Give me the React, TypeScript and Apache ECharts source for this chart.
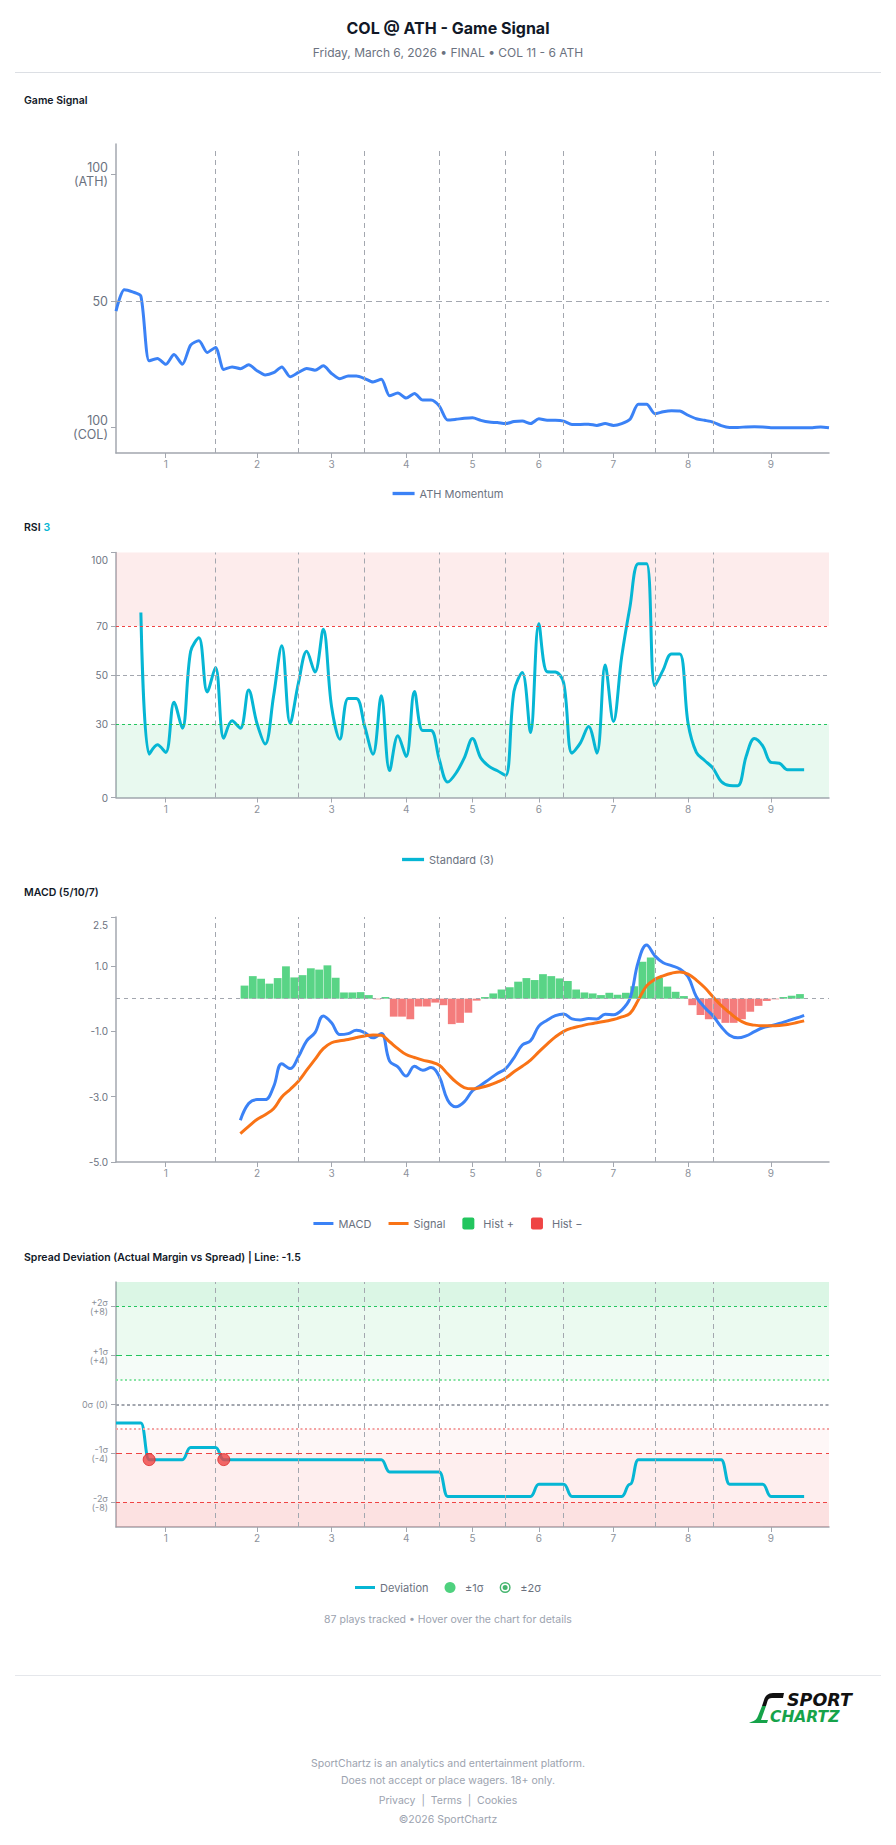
import { useEffect, useRef } from 'react';
import * as echarts from 'echarts';

// ---------------------------------------------------------------------------
// Play axis: one category per tracked play, innings marked by dashed breaks
// ---------------------------------------------------------------------------
const playCount = 87;
const plays: string[] = Array.from({ length: playCount }, (_, i) => `Play ${i + 1}`);
const histBands: string[] = plays.slice(0, playCount - 1);
const inningBreaks = [12, 22, 30, 39, 47, 54, 65, 72];
const inningLabelAt = [6, 17, 26, 35, 43, 51, 60, 69, 79];
const inningLabels = ['1', '2', '3', '4', '5', '6', '7', '8', '9'];

// Game signal (0 = COL side, 100 = ATH side)
const athMomentum = [
  46.0, 54.5, 53.6, 51.9, 26.4, 27.3, 25.0, 28.9, 25.0, 32.6,
  34.3, 29.7, 31.7, 23.0, 24.0, 23.3, 24.8, 22.5, 20.8, 21.7,
  24.0, 20.1, 21.8, 23.4, 22.7, 24.4, 21.4, 19.3, 20.4, 20.4,
  19.4, 18.0, 19.1, 12.6, 13.7, 11.7, 13.5, 10.9, 10.9, 8.5,
  3.0, 3.3, 3.7, 3.9, 2.9, 2.2, 2.0, 1.6, 2.4, 2.6,
  1.6, 3.5, 2.9, 2.9, 2.6, 1.3, 1.3, 1.4, 0.9, 1.6,
  0.9, 1.6, 3.3, 9.2, 9.2, 5.5, 6.3, 6.7, 6.6, 4.9,
  3.5, 2.9, 2.2, 0.8, 0.1, 0.1, 0.3, 0.4, 0.3, 0.0,
  0.0, 0.0, 0.0, 0.0, 0.0, 0.3, 0.0,
];

// RSI (3), first value on play index 3
const rsiStart = 3;
const rsiValues = [
  75.5, 17.7, 21.5, 18.4, 38.9, 28.3, 59.6, 65.2, 43.1, 53.1,
  24.2, 31.3, 28.3, 43.9, 30.3, 21.8, 41.2, 61.9, 30.3, 46.7,
  59.7, 51.2, 68.7, 37.1, 23.8, 40.4, 40.4, 29.0, 17.7, 41.5,
  11.0, 25.2, 16.7, 43.3, 27.3, 27.3, 15.4, 6.3, 9.9, 16.1,
  24.1, 16.1, 12.7, 10.9, 9.0, 43.3, 51.0, 26.5, 70.9, 51.3,
  51.2, 46.7, 18.1, 22.2, 29.0, 18.1, 54.1, 31.0, 57.6, 78.0,
  95.4, 95.4, 45.6, 52.1, 58.6, 58.6, 30.3, 18.4, 15.1, 12.0,
  6.5, 4.9, 4.8, 16.7, 24.1, 21.1, 14.3, 14.0, 11.3, 11.3,
  11.3,
];

// MACD (5/10/7), first value on play index 15
const macdStart = 15;
const macdValues = [
  -3.72, -3.21, -3.09, -3.09, -2.70, -1.99, -2.14, -1.78, -1.29, -1.04,
  -0.53, -0.74, -1.10, -1.07, -0.97, -1.04, -1.20, -1.07, -1.91, -2.09,
  -2.37, -2.07, -2.19, -2.11, -2.39, -3.10, -3.31, -3.16, -2.82, -2.65,
  -2.47, -2.29, -2.14, -1.81, -1.42, -1.29, -0.84, -0.66, -0.52, -0.47,
  -0.62, -0.65, -0.61, -0.62, -0.48, -0.49, -0.35, 0.01, 1.13, 1.64,
  1.31, 1.10, 1.01, 0.91, 0.67, 0.06, -0.27, -0.52, -0.86, -1.12,
  -1.20, -1.14, -1.01, -0.89, -0.83, -0.76, -0.68, -0.60, -0.51,
];
const signalValues = [
  -4.13, -3.91, -3.70, -3.55, -3.37, -3.01, -2.78, -2.53, -2.19, -1.86,
  -1.53, -1.35, -1.29, -1.25, -1.19, -1.14, -1.11, -1.12, -1.32, -1.53,
  -1.71, -1.80, -1.88, -1.94, -2.04, -2.30, -2.55, -2.72, -2.76, -2.72,
  -2.65, -2.55, -2.43, -2.24, -2.07, -1.88, -1.63, -1.39, -1.17, -1.00,
  -0.90, -0.84, -0.78, -0.74, -0.69, -0.64, -0.56, -0.45, -0.04, 0.39,
  0.59, 0.70, 0.78, 0.82, 0.75, 0.57, 0.34, 0.06, -0.21, -0.43,
  -0.63, -0.76, -0.81, -0.83, -0.83, -0.82, -0.79, -0.74, -0.68,
];
const histValues = [
  0.40, 0.69, 0.61, 0.46, 0.63, 0.99, 0.65, 0.72, 0.93, 0.89,
  1.02, 0.64, 0.19, 0.19, 0.20, 0.11, -0.02, 0.05, -0.55, -0.55,
  -0.63, -0.24, -0.24, -0.12, -0.20, -0.78, -0.74, -0.43, -0.06, 0.05,
  0.16, 0.28, 0.35, 0.52, 0.63, 0.57, 0.75, 0.69, 0.62, 0.54,
  0.28, 0.19, 0.16, 0.11, 0.18, 0.12, 0.18, 0.38, 1.13, 1.26,
  0.64, 0.37, 0.21, 0.08, -0.20, -0.50, -0.63, -0.63, -0.74, -0.74,
  -0.63, -0.40, -0.22, -0.07, -0.02, 0.05, 0.09, 0.14,
];

// Spread deviation (actual margin vs -1.5 line), plays 0..83
const spreadDeviation = [
  -1.5, -1.5, -1.5, -1.5, -4.5, -4.5, -4.5, -4.5, -4.5, -3.5,
  -3.5, -3.5, -3.5, -4.5, -4.5, -4.5, -4.5, -4.5, -4.5, -4.5,
  -4.5, -4.5, -4.5, -4.5, -4.5, -4.5, -4.5, -4.5, -4.5, -4.5,
  -4.5, -4.5, -4.5, -5.5, -5.5, -5.5, -5.5, -5.5, -5.5, -5.5,
  -7.5, -7.5, -7.5, -7.5, -7.5, -7.5, -7.5, -7.5, -7.5, -7.5,
  -7.5, -6.5, -6.5, -6.5, -6.5, -7.5, -7.5, -7.5, -7.5, -7.5,
  -7.5, -7.5, -6.5, -4.5, -4.5, -4.5, -4.5, -4.5, -4.5, -4.5,
  -4.5, -4.5, -4.5, -4.5, -6.5, -6.5, -6.5, -6.5, -6.5, -7.5,
  -7.5, -7.5, -7.5, -7.5,
];
const sigmaHits = [4, 13];

const gameSignalTicks = [0, 50, 100];
const rsiTicks = [0, 30, 50, 70, 100];
const macdTicks = [-5, -3, -1, 1, 2.5];
const spreadTicks = [-8, -4, 0, 4, 8];

// ---------------------------------------------------------------------------
const FONT = 'Inter, "Noto Sans", sans-serif';
const AXIS_COLOR = '#a3a7af';
const Y_LABEL = '#6b7280';
const X_LABEL = '#8d929b';
const GRID_LINE = '#a3a7af';
const BLUE = '#3b82f6';
const ORANGE = '#f97316';
const CYAN = '#06b6d4';
const GREEN = '#22c55e';
const RED = '#ef4444';

echarts.graphic.registerShape(
  'stickTop',
  echarts.graphic.extendPath('M35 0 L24 0 C19 0 16 3 15 7 L13 13 L17 13 L18.5 8 C19 6 20.5 5 23 5 L34 5 Z', {})
);
echarts.graphic.registerShape(
  'stickBlade',
  echarts.graphic.extendPath('M13 13 L9 23 C8 26 6 28 2 29 L0 30 L18 30 L19 27 L12 27 L17 13 Z', {})
);

const lineIcon = 'path://M0,0H20V3H0Z';
const roundSquareIcon =
  'path://M2,0H10A2,2,0,0,1,12,2V10A2,2,0,0,1,10,12H2A2,2,0,0,1,0,10V2A2,2,0,0,1,2,0Z';
const ringIcon =
  'path://M7,0A7,7,0,1,1,7,14A7,7,0,1,1,7,0ZM7,1.8A5.2,5.2,0,1,0,7,12.2A5.2,5.2,0,1,0,7,1.8ZM7,3.8A3.2,3.2,0,1,1,7,10.2A3.2,3.2,0,1,1,7,3.8Z';

function padSeries(start: number, values: number[], total: number) {
  const out: (number | null)[] = new Array(total).fill(null);
  values.forEach((v, i) => {
    out[start + i] = v;
  });
  return out;
}

function playAxis(gridIndex: number) {
  return {
    type: 'category',
    gridIndex,
    data: plays,
    boundaryGap: false,
    axisLine: { show: true, onZero: false, lineStyle: { color: AXIS_COLOR, width: 1.5 } },
    axisTick: {
      show: true,
      interval: (i: number) => inningLabelAt.includes(i),
      length: 5,
      lineStyle: { color: AXIS_COLOR },
    },
    axisLabel: {
      interval: (i: number) => inningLabelAt.includes(i),
      formatter: (_v: string, i: number) => {
        const k = inningLabelAt.indexOf(i);
        return k >= 0 ? inningLabels[k] : '';
      },
      color: X_LABEL,
      fontSize: 10,
      fontFamily: FONT,
      margin: 6,
    },
    splitLine: { show: false },
  };
}

function valueAxis(gridIndex: number, min: number, max: number, ticks: number[], label: any) {
  return {
    type: 'value',
    gridIndex,
    min,
    max,
    axisLine: { show: true, onZero: false, lineStyle: { color: AXIS_COLOR, width: 1.5 } },
    axisTick: { show: true, customValues: ticks, length: 5, lineStyle: { color: AXIS_COLOR } },
    axisLabel: { customValues: ticks, fontFamily: FONT, color: Y_LABEL, margin: 8, ...label },
    splitLine: { show: false },
  };
}

function inningLines(yMin: number, yMax: number) {
  return inningBreaks.map((b) => [
    { coord: [b, yMin], lineStyle: { color: GRID_LINE, type: [5, 4], width: 1 } },
    { coord: [b, yMax] },
  ]);
}

function hLine(y: number, color: string, dash: number[], width = 1) {
  return { yAxis: y, lineStyle: { color, type: dash, width } };
}

const markLineBase = {
  symbol: ['none', 'none'],
  silent: true,
  label: { show: false },
  emphasis: { disabled: true },
  animation: false,
};

function band(from: number, to: number, color: string) {
  return [{ yAxis: from, itemStyle: { color } }, { yAxis: to }];
}

function text(
  t: string,
  x: number,
  y: number,
  size: number,
  color: string,
  weight: any = 400,
  align = 'left',
  family = FONT,
  fontStyle = 'normal'
) {
  return {
    type: 'text',
    x,
    y,
    silent: true,
    style: {
      text: t,
      fill: color,
      fontSize: size,
      fontWeight: weight,
      fontFamily: family,
      fontStyle,
      align,
      verticalAlign: 'middle',
      textAlign: align,
      textVerticalAlign: 'middle',
    },
  };
}

function buildOption() {
  const rsiData = padSeries(rsiStart, rsiValues, playCount);
  const macdData = padSeries(macdStart, macdValues, playCount);
  const signalData = padSeries(macdStart, signalValues, playCount);
  const histAll = padSeries(macdStart, histValues, playCount - 1);
  const histPos = histAll.map((v) => (v !== null && v >= 0 ? v : null));
  const histNeg = histAll.map((v) => (v !== null && v < 0 ? v : null));
  const spreadData = padSeries(0, spreadDeviation, playCount);
  const sigmaPoints = sigmaHits.map((i) => ({
    value: [i, spreadDeviation[i]],
    itemStyle: { color: RED, borderColor: '#dc2626', borderWidth: 1 },
  }));

  const legendText = { color: Y_LABEL, fontSize: 11, fontFamily: FONT };
  const grids = { left: 116, right: 67 };

  return {
    animation: false,
    backgroundColor: '#ffffff',
    textStyle: { fontFamily: FONT },
    grid: [
      { ...grids, top: 144, height: 309 },
      { ...grids, top: 552.5, height: 245 },
      { ...grids, top: 917, height: 245 },
      { ...grids, top: 1282, height: 245 },
    ],
    xAxis: [
      playAxis(0),
      playAxis(1),
      playAxis(2),
      playAxis(3),
      {
        type: 'category',
        gridIndex: 2,
        data: histBands,
        boundaryGap: true,
        show: false,
        axisLine: { onZero: false },
      },
    ],
    yAxis: [
      valueAxis(0, -10, 112, gameSignalTicks, {
        formatter: (v: number) => (v === 100 ? '100\n(ATH)' : v === 0 ? '100\n(COL)' : String(v)),
        fontSize: 12.5,
        lineHeight: 14,
      }),
      valueAxis(1, 0, 100, rsiTicks, {
        formatter: (v: number) => (v === 100 ? '{top|100}' : String(v)),
        fontSize: 10,
        rich: { top: { padding: [15, 0, 0, 0], fontSize: 10, color: Y_LABEL, fontFamily: FONT } },
      }),
      valueAxis(2, -5, 2.5, macdTicks, {
        formatter: (v: number) => (v === 2.5 ? '{top|2.5}' : v.toFixed(1)),
        fontSize: 10,
        rich: { top: { padding: [15, 0, 0, 0], fontSize: 10, color: Y_LABEL, fontFamily: FONT } },
      }),
      valueAxis(3, -10, 10, spreadTicks, {
        formatter: (v: number) => {
          if (v === 0) return '0σ (0)';
          const s = v > 0 ? '+' : '-';
          return `${s}${Math.abs(v) / 4}σ\n(${s}${Math.abs(v)})`;
        },
        fontSize: 9,
        lineHeight: 9,
        color: '#8b9099',
      }),
    ],
    legend: [
      {
        data: [{ name: 'ATH Momentum', icon: lineIcon }],
        top: 483,
        left: 'center',
        itemWidth: 22,
        itemHeight: 12,
        selectedMode: false,
        textStyle: legendText,
      },
      {
        data: [{ name: 'Standard (3)', icon: lineIcon }],
        top: 849,
        left: 'center',
        itemWidth: 22,
        itemHeight: 12,
        selectedMode: false,
        textStyle: legendText,
      },
      {
        data: [
          { name: 'MACD', icon: lineIcon },
          { name: 'Signal', icon: lineIcon },
          { name: 'Hist +', icon: roundSquareIcon, itemStyle: { color: GREEN, opacity: 1 } },
          { name: 'Hist −', icon: roundSquareIcon, itemStyle: { color: RED, opacity: 1 } },
        ],
        top: 1212.5,
        left: 'center',
        itemWidth: 20,
        itemHeight: 12,
        itemGap: 17,
        selectedMode: false,
        textStyle: legendText,
      },
      {
        data: [
          { name: 'Deviation', icon: lineIcon },
          { name: '±1σ', icon: 'circle', itemStyle: { color: GREEN } },
          { name: '±2σ', icon: ringIcon, itemStyle: { color: '#16a34a' } },
        ],
        top: 1577,
        left: 'center',
        itemWidth: 20,
        itemHeight: 11,
        itemGap: 16,
        selectedMode: false,
        textStyle: legendText,
      },
    ],
    series: [
      {
        name: 'ATH Momentum',
        type: 'line',
        xAxisIndex: 0,
        yAxisIndex: 0,
        data: athMomentum,
        symbol: 'none',
        smooth: 0.25,
        lineStyle: { color: BLUE, width: 3 },
        itemStyle: { color: BLUE },
        z: 3,
        markLine: {
          ...markLineBase,
          data: [...inningLines(-10, 110), hLine(50, GRID_LINE, [6, 4])],
        },
      },
      {
        name: 'Standard (3)',
        type: 'line',
        xAxisIndex: 1,
        yAxisIndex: 1,
        data: rsiData,
        symbol: 'none',
        smooth: 0.35,
        lineStyle: { color: CYAN, width: 3 },
        itemStyle: { color: CYAN },
        z: 3,
        markArea: {
          silent: true,
          data: [band(70, 100, 'rgba(239,68,68,0.1)'), band(0, 30, 'rgba(34,197,94,0.1)')],
        },
        markLine: {
          ...markLineBase,
          data: [
            ...inningLines(0, 100),
            hLine(70, RED, [3, 3]),
            hLine(50, GRID_LINE, [4, 3]),
            hLine(30, GREEN, [3, 3]),
          ],
        },
      },
      {
        name: 'Hist +',
        type: 'bar',
        xAxisIndex: 4,
        yAxisIndex: 2,
        data: histPos,
        barGap: '-100%',
        barCategoryGap: '6%',
        itemStyle: { color: 'rgba(34,197,94,0.75)' },
        z: 1,
      },
      {
        name: 'Hist −',
        type: 'bar',
        xAxisIndex: 4,
        yAxisIndex: 2,
        data: histNeg,
        barGap: '-100%',
        barCategoryGap: '6%',
        itemStyle: { color: 'rgba(239,68,68,0.7)' },
        z: 1,
      },
      {
        name: 'MACD',
        type: 'line',
        xAxisIndex: 2,
        yAxisIndex: 2,
        data: macdData,
        symbol: 'none',
        smooth: 0.4,
        lineStyle: { color: BLUE, width: 3 },
        itemStyle: { color: BLUE },
        z: 4,
        markLine: {
          ...markLineBase,
          data: [...inningLines(-5, 2.5), hLine(0, GRID_LINE, [4, 4])],
        },
      },
      {
        name: 'Signal',
        type: 'line',
        xAxisIndex: 2,
        yAxisIndex: 2,
        data: signalData,
        symbol: 'none',
        smooth: 0.4,
        lineStyle: { color: ORANGE, width: 3 },
        itemStyle: { color: ORANGE },
        z: 4,
      },
      {
        name: 'Deviation',
        type: 'line',
        xAxisIndex: 3,
        yAxisIndex: 3,
        data: spreadData,
        symbol: 'none',
        smooth: 0.5,
        smoothMonotone: 'x',
        lineStyle: { color: CYAN, width: 3 },
        itemStyle: { color: CYAN },
        z: 4,
        markArea: {
          silent: true,
          data: [
            band(8, 10, 'rgba(34,197,94,0.16)'),
            band(4, 8, 'rgba(34,197,94,0.09)'),
            band(2, 4, 'rgba(34,197,94,0.045)'),
            band(-4, -2, 'rgba(239,68,68,0.045)'),
            band(-8, -4, 'rgba(239,68,68,0.09)'),
            band(-10, -8, 'rgba(239,68,68,0.16)'),
          ],
        },
        markLine: {
          ...markLineBase,
          data: [
            ...inningLines(-10, 10),
            hLine(8, GREEN, [3, 3]),
            hLine(4, GREEN, [6, 4]),
            hLine(2, '#86e3a3', [2, 2.5], 2),
            hLine(0, '#a3a7af', [3, 2.5], 2),
            hLine(-2, '#f4a3a3', [2, 2.5], 2),
            hLine(-4, RED, [6, 4]),
            hLine(-8, RED, [4, 3]),
          ],
        },
      },
      {
        name: '±1σ',
        type: 'scatter',
        xAxisIndex: 3,
        yAxisIndex: 3,
        data: sigmaPoints,
        symbol: 'circle',
        symbolSize: 12,
        itemStyle: { color: GREEN },
        z: 6,
      },
      {
        name: '±2σ',
        type: 'scatter',
        xAxisIndex: 3,
        yAxisIndex: 3,
        data: [],
        symbolSize: 12,
        itemStyle: { color: '#16a34a' },
        z: 6,
      },
    ],
    graphic: [
      text('COL @ ATH - Game Signal', 448, 27.5, 16, '#111827', 700, 'center'),
      text('Friday, March 6, 2026 • FINAL • COL 11 - 6 ATH', 448, 52.5, 12, '#6b7280', 400, 'center'),
      {
        type: 'line',
        silent: true,
        shape: { x1: 15, y1: 72.5, x2: 881, y2: 72.5 },
        style: { stroke: '#dcdfe4', lineWidth: 1 },
      },
      text('Game Signal', 24, 100, 10.5, '#111827', 600),
      text('RSI', 24, 527.5, 10.5, '#111827', 600),
      text('3', 43.5, 527.5, 10.5, CYAN, 600),
      text('MACD (5/10/7)', 24, 892.5, 10.5, '#111827', 600),
      text('Spread Deviation (Actual Margin vs Spread) | Line: -1.5', 24, 1257.5, 10.5, '#111827', 600),
      text('87 plays tracked • Hover over the chart for details', 448, 1619, 10.5, '#9ca3af', 400, 'center'),
      {
        type: 'line',
        silent: true,
        shape: { x1: 15, y1: 1675.5, x2: 881, y2: 1675.5 },
        style: { stroke: '#e5e7eb', lineWidth: 1 },
      },
      { type: 'stickTop', x: 749, y: 1693, silent: true, style: { fill: '#111111' } },
      { type: 'stickBlade', x: 749, y: 1693, silent: true, style: { fill: '#16a34a' } },
      text('SPORT', 787, 1700, 17.5, '#111111', 'bold', 'left', '"DejaVu Sans"', 'italic'),
      text('CHARTZ', 770, 1716.5, 15.5, '#16a34a', 'bold', 'left', '"DejaVu Sans"', 'italic'),
      text('SportChartz is an analytics and entertainment platform.', 448, 1763.5, 10.5, '#9ca3af', 400, 'center'),
      text('Does not accept or place wagers. 18+ only.', 448, 1780, 10.5, '#9ca3af', 400, 'center'),
      text('Privacy  |  Terms  |  Cookies', 448, 1800, 10.5, '#9ca3af', 400, 'center'),
      text('©2026 SportChartz', 448, 1819.5, 10.5, '#9ca3af', 400, 'center'),
    ],
  };
}

export default function App() {
  const ref = useRef<HTMLDivElement | null>(null);

  useEffect(() => {
    if (!ref.current) return;
    document.body.style.margin = '0';
    const chart = echarts.init(ref.current, null, { renderer: 'svg' });
    chart.setOption(buildOption() as any);
    return () => {
      chart.dispose();
    };
  }, []);

  return (
    <div
      ref={ref}
      style={{ position: 'absolute', left: 0, top: 0, width: 896, height: 1845, background: '#ffffff' }}
    />
  );
}
